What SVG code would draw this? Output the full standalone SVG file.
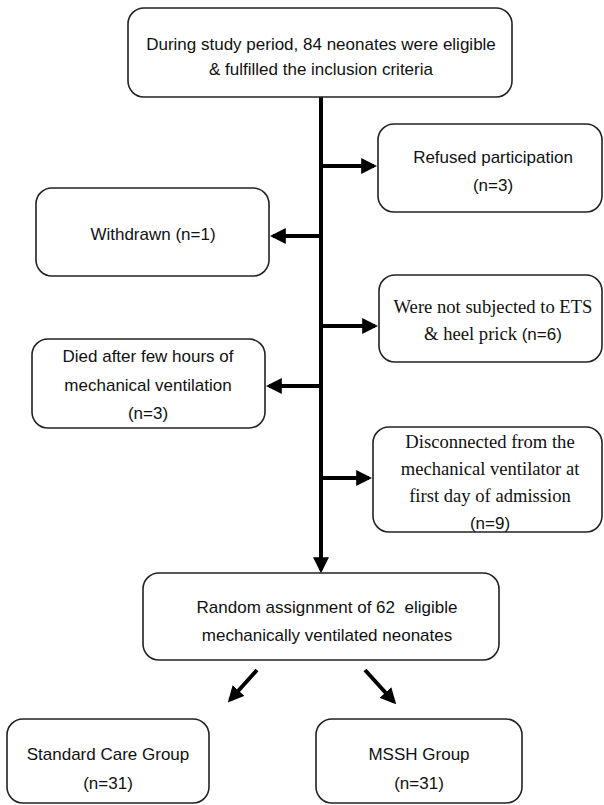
<svg xmlns="http://www.w3.org/2000/svg" width="604" height="805" viewBox="0 0 604 805">
<style>
.box{fill:#fff;stroke:#222;stroke-width:1.6}
.t{font-family:"Liberation Sans",Arial,sans-serif;font-size:17px;fill:#111;text-anchor:middle}
.s{font-family:"Liberation Serif","Times New Roman",serif;font-size:18.6px;fill:#111;text-anchor:middle}
.c{stroke:#000;stroke-width:4;fill:none}
</style>
<defs>
<marker id="ah" markerWidth="4" markerHeight="4" refX="3.2" refY="2" orient="auto" markerUnits="strokeWidth">
<path d="M0,0 L4,2 L0,4 Z" fill="#000"/>
</marker>
</defs>
<g id="connectors">
<line class="c" x1="321" y1="97" x2="321" y2="570" marker-end="url(#ah)"/>
<line class="c" x1="321" y1="166" x2="374" y2="166" marker-end="url(#ah)"/>
<line class="c" x1="321" y1="236" x2="273" y2="236" marker-end="url(#ah)"/>
<line class="c" x1="321" y1="326" x2="375" y2="326" marker-end="url(#ah)"/>
<line class="c" x1="321" y1="386" x2="269" y2="386" marker-end="url(#ah)"/>
<line class="c" x1="321" y1="478" x2="369" y2="478" marker-end="url(#ah)"/>
<line class="c" x1="257" y1="670" x2="230" y2="700" marker-end="url(#ah)"/>
<line class="c" x1="365" y1="670" x2="394" y2="702" marker-end="url(#ah)"/>
</g>
<g id="start">
<rect class="box" x="128" y="8" width="384" height="89" rx="16"/>
<text class="t" x="321" y="50">During study period, 84 neonates were eligible</text>
<text class="t" x="321" y="75">&amp; fulfilled the inclusion criteria</text>
</g>
<g id="refused">
<rect class="box" x="378" y="124" width="224" height="88" rx="16"/>
<text class="t" x="493" y="163">Refused participation</text>
<text class="t" x="493" y="191">(n=3)</text>
</g>
<g id="withdrawn">
<rect class="box" x="36" y="188" width="233" height="88" rx="16"/>
<text class="t" x="153" y="240">Withdrawn (n=1)</text>
</g>
<g id="ets">
<rect class="box" x="379" y="275" width="223" height="87" rx="16"/>
<text class="s" x="493" y="313">Were not subjected to ETS</text>
<text class="s" x="493" y="340">&amp; heel prick <tspan class="t">(n=6)</tspan></text>
</g>
<g id="died">
<rect class="box" x="32" y="339" width="233" height="89" rx="16"/>
<text class="t" x="148" y="362">Died after few hours of</text>
<text class="t" x="148" y="391">mechanical ventilation</text>
<text class="t" x="148" y="419">(n=3)</text>
</g>
<g id="disconnected">
<rect class="box" x="373" y="427" width="229" height="105" rx="16"/>
<text class="s" x="490" y="448">Disconnected from the</text>
<text class="s" x="490" y="475">mechanical ventilator at</text>
<text class="s" x="490" y="502">first day of admission</text>
<text class="t" x="490" y="529">(n=9)</text>
</g>
<g id="random">
<rect class="box" x="143" y="573" width="356" height="87" rx="16"/>
<text class="t" x="327" y="613" xml:space="preserve">Random assignment of 62  eligible</text>
<text class="t" x="327" y="641">mechanically ventilated neonates</text>
</g>
<g id="standard">
<rect class="box" x="7" y="719" width="202" height="84" rx="16"/>
<text class="t" x="108" y="760">Standard Care Group</text>
<text class="t" x="108" y="789">(n=31)</text>
</g>
<g id="mssh">
<rect class="box" x="316" y="719" width="206" height="84" rx="16"/>
<text class="t" x="419" y="760">MSSH Group</text>
<text class="t" x="419" y="789">(n=31)</text>
</g>
</svg>
